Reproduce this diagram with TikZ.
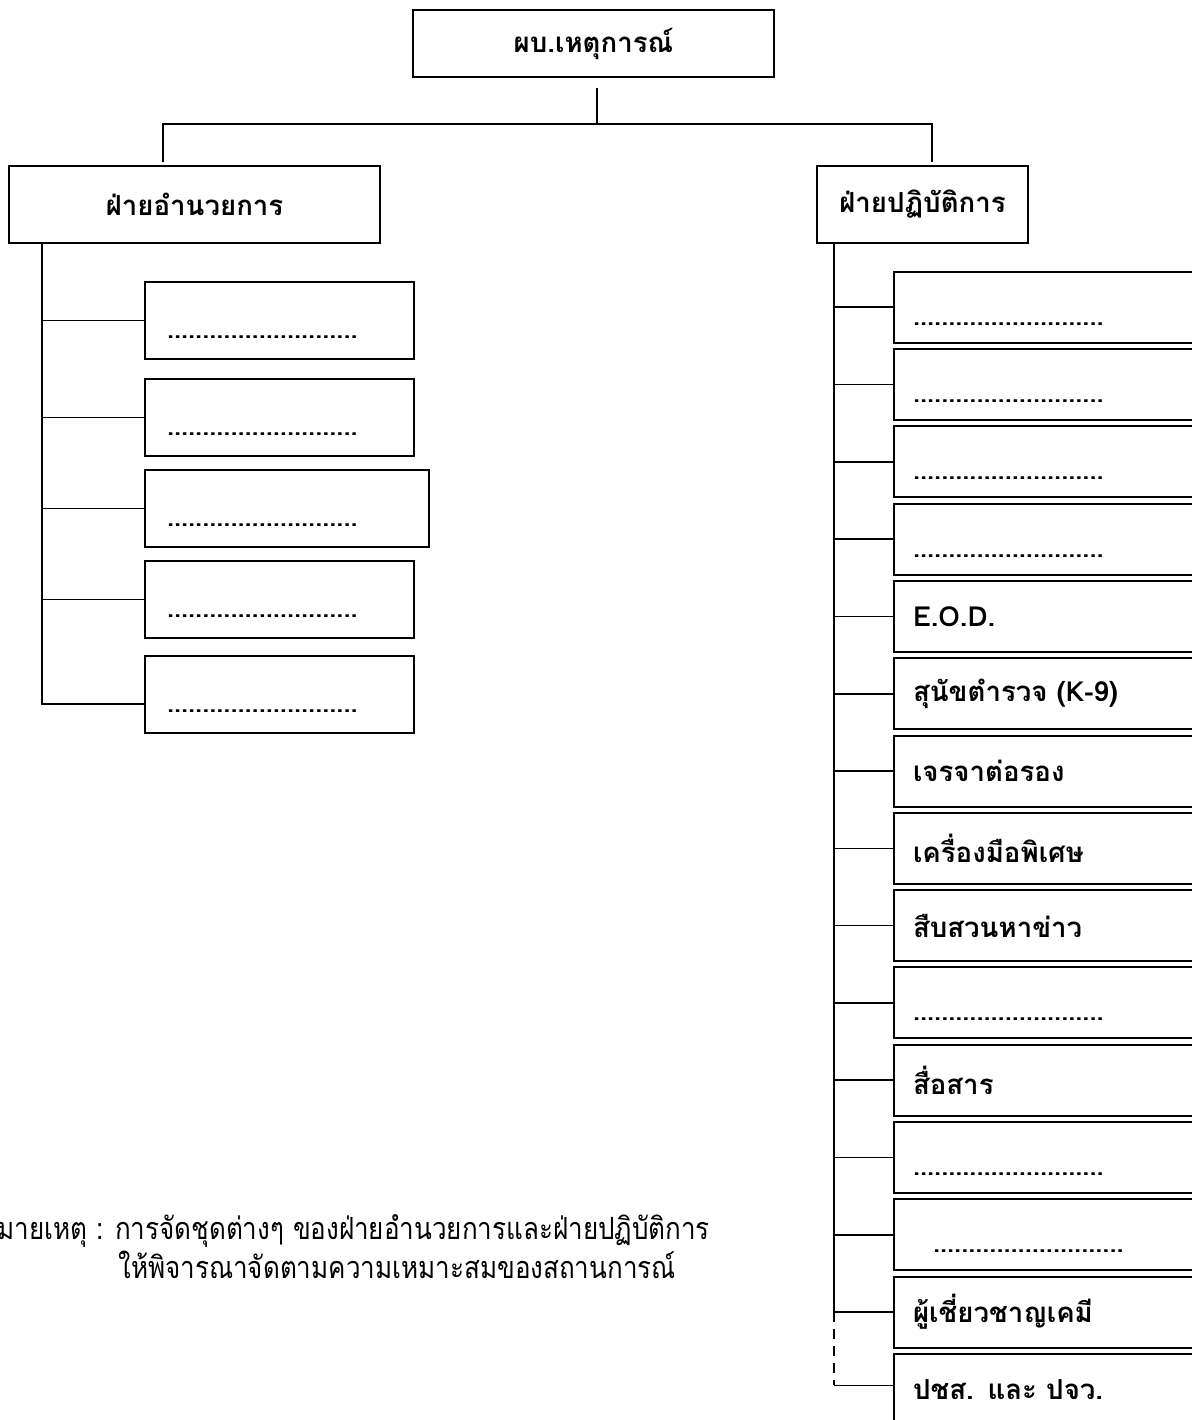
\documentclass[tikz,border=0pt]{standalone}
\usepackage{fontspec}
\setmainfont[Script=Thai]{Loma}
\newfontfamily\remarkfont[Script=Thai,FakeStretch=0.85]{Loma}

\newcommand{\blankline}{{\fontsize{12.7}{18}\selectfont ...........................}}

\begin{document}
\begin{tikzpicture}[x=0.5pt,y=-0.5pt]

	\tikzstyle{unit}=[rectangle,draw=black,line width=1pt,
		inner sep=0pt,font=\bfseries\fontsize{13.8}{18}\selectfont]
	\tikzstyle{team}=[unit,minimum height=35.5pt,
		text width=151pt,inner xsep=9.5pt,align=left,node distance=38.65pt]
	\tikzstyle{cell}=[unit,minimum height=38.5pt,
		text width=112.5pt,inner xsep=11pt,align=left,anchor=west]
	\tikzstyle{link}=[line width=0.8pt]
	\tikzstyle{remark}=[anchor=base west,inner sep=0pt,font=\remarkfont\fontsize{15.3}{18}\selectfont]

	\useasboundingbox (0,0) rectangle (1192,1420);

	% head and the two sides
	\node[unit,minimum width=180.5pt,minimum height=33.5pt] (cmd) at (593.5,43.5) {ผบ.เหตุการณ์};
	\node[unit,minimum width=185.5pt,minimum height=38.5pt] (dir) at (194.5,204.5) {ฝ่ายอำนวยการ};
	\node[unit,minimum width=105.5pt,minimum height=38.5pt] (ops) at (922.5,204.5) {ฝ่ายปฏิบัติการ};

	\draw[link] ([xshift=1.75pt,yshift=-5pt]cmd.south) -- ++(0,-18pt) coordinate (bus);
	\draw[link] ([xshift=-15.75pt,yshift=1.5pt]dir.north) |- (bus) -| ([xshift=4.75pt,yshift=1.5pt]ops.north);

	% left side
	\node[cell] (dl1) at (144,320.5) {\mbox{}\\\blankline};
	\node[cell] (dl2) at (144,417.5) {\mbox{}\\\blankline};
	\node[cell,text width=120pt] (dl3) at (144,508.5) {\mbox{}\\\blankline};
	\node[cell] (dl4) at (144,599.5) {\mbox{}\\\blankline};
	\node[cell] (dl5) at (144,694.5) {\mbox{}\\\blankline};

	\coordinate (lsp) at ([xshift=17pt]dir.south west);
	\draw[link] (lsp) |- (dl1.west);
	\draw[link] (lsp) |- (dl2.west);
	\draw[link] (lsp) |- (dl3.west);
	\draw[link] (lsp) |- (dl4.west);
	\draw[link] (lsp) |- ([yshift=-4.75pt]dl5.west);

	% right side
	\node[team,anchor=west] (op1) at (893,307.2) {\mbox{}\\\blankline};
	\node[team,below of=op1] (op2) {\mbox{}\\\blankline};
	\node[team,below of=op2] (op3) {\mbox{}\\\blankline};
	\node[team,below of=op3] (op4) {\mbox{}\\\blankline};
	\node[team,below of=op4] (op5) {E.O.D.};
	\node[team,below of=op5] (op6) {สุนัขตำรวจ (K-9)};
	\node[team,below of=op6] (op7) {เจรจาต่อรอง};
	\node[team,below of=op7] (op8) {เครื่องมือพิเศษ};
	\node[team,below of=op8] (op9) {สืบสวนหาข่าว};
	\node[team,below of=op9] (op10) {\mbox{}\\\blankline};
	\node[team,below of=op10] (op11) {สื่อสาร};
	\node[team,below of=op11] (op12) {\mbox{}\\\blankline};
	\node[team,below of=op12] (op13) {\mbox{}\\\hspace*{10pt}\blankline};
	\node[team,below of=op13] (op14) {ผู้เชี่ยวชาญเคมี};
	\node[team,below of=op14] (op15) {ปชส. และ ปจว.};

	\coordinate (rsp) at ([xshift=9pt]ops.south west);
	\draw[link] (rsp) |- (op1.west);
	\draw[link] (rsp) |- (op2.west);
	\draw[link] (rsp) |- (op3.west);
	\draw[link] (rsp) |- (op4.west);
	\draw[link] (rsp) |- (op5.west);
	\draw[link] (rsp) |- (op6.west);
	\draw[link] (rsp) |- (op7.west);
	\draw[link] (rsp) |- (op8.west);
	\draw[link] (rsp) |- (op9.west);
	\draw[link] (rsp) |- (op10.west);
	\draw[link] (rsp) |- (op11.west);
	\draw[link] (rsp) |- (op12.west);
	\draw[link] (rsp) |- (op13.west);
	\draw[link] (rsp) |- (op14.west);
	\draw[link,dash pattern=on 5pt off 3.5pt] (rsp |- op14.west) -- ([yshift=2pt]rsp |- op15.west);
	\draw[link] ([yshift=2pt]rsp |- op15.west) -- ([yshift=2pt]op15.west);

	% note
	\node[remark] (note) at (-20,1239) {หมายเหตุ : การจัดชุดต่างๆ ของฝ่ายอำนวยการและฝ่ายปฏิบัติการ};
	\node[remark] (note2) at (118,1278) {ให้พิจารณาจัดตามความเหมาะสมของสถานการณ์};

\end{tikzpicture}
\end{document}
